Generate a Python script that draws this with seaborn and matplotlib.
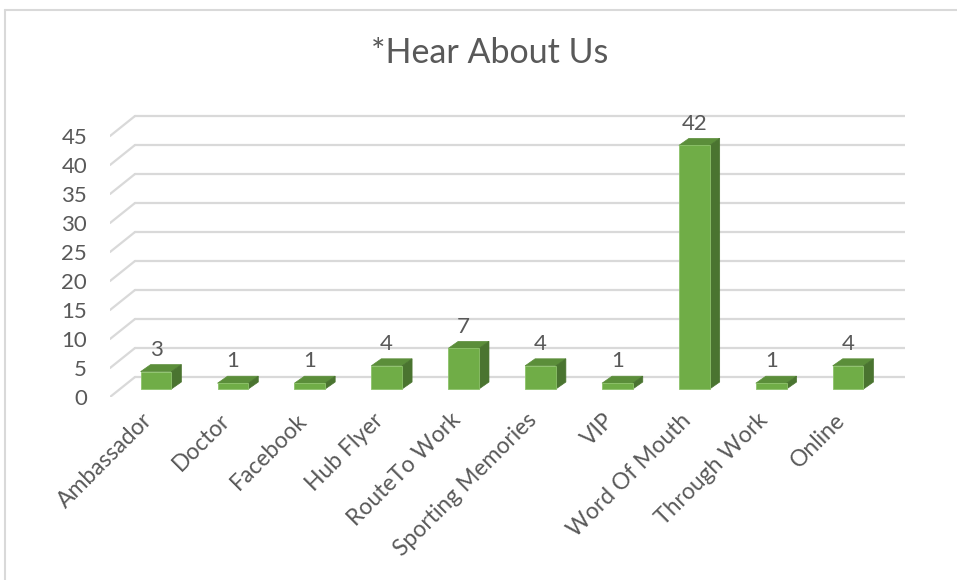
import matplotlib
matplotlib.use("Agg")
import matplotlib.pyplot as plt
import matplotlib.transforms as mtransforms
from matplotlib.patches import Polygon
from matplotlib.lines import Line2D
import seaborn as sns

categories = ["Ambassador", "Doctor", "Facebook", "Hub Flyer", "RouteTo Work",
              "Sporting Memories", "VIP", "Word Of Mouth", "Through Work", "Online"]
counts = [3, 1, 1, 4, 7, 4, 1, 42, 1, 4]
y_ticks = [0, 5, 10, 15, 20, 25, 30, 35, 40, 45]
title = "*Hear About Us"

FRONT = "#70AD47"
TOP = "#5B8E3A"
SIDE = "#4A7430"
GRID = "#D9D9D9"
TEXT = "#595959"

sns.set_style("white")
plt.rcParams["font.family"] = ["Lato", "DejaVu Sans"]

W, H, DPI = 957, 580, 100
fig = plt.figure(figsize=(W / DPI, H / DPI), dpi=DPI)

# pixel geometry of the 3-D plot box
px_left, px_right, px_top, px_bottom = 110, 905, 110, 397
cat_step = 76.9      # px per category
val_step = 5.8       # px per unit
x0_px, y0_px = 156, 389  # centre of first bar, baseline of bar fronts

xlim = ((px_left - x0_px) / cat_step, (px_right - x0_px) / cat_step)
ylim = ((y0_px - px_bottom) / val_step, (y0_px - px_top) / val_step)
ax = fig.add_axes([px_left / W, (H - px_bottom) / H,
                   (px_right - px_left) / W, (px_bottom - px_top) / H])

sns.barplot(x=categories, y=counts, ax=ax, color=FRONT, width=0.4,
            saturation=1, edgecolor="#8DC26A", linewidth=0.6, zorder=3)

ax.set_xlim(*xlim)
ax.set_ylim(*ylim)
for s in ax.spines.values():
    s.set_visible(False)

# depth of the 3-D extrusion in data units
bar_dx, bar_dy = 10 / cat_step, 7 / val_step
wall_dx, wall_dy = (135 - px_left) / cat_step, (px_bottom - 377) / val_step
back_x0 = xlim[0] + wall_dx
back_lift = ylim[0] + wall_dy  # back wall offset relative to bar baseline

# gridlines: diagonal on the side wall, horizontal on the back wall
for v in y_ticks:
    yb = v + back_lift
    ax.add_line(Line2D([xlim[0], back_x0], [v + ylim[0], yb],
                       color=GRID, lw=1.6, zorder=1))
    ax.add_line(Line2D([back_x0, xlim[1]], [yb, yb],
                       color=GRID, lw=1.6, zorder=1))

# tops and right sides of each bar
for rect in list(ax.patches):
    x, w, h = rect.get_x(), rect.get_width(), rect.get_height()
    top = Polygon([(x, h), (x + w, h), (x + w + bar_dx, h + bar_dy),
                   (x + bar_dx, h + bar_dy)], closed=True,
                  facecolor=TOP, edgecolor=TOP, lw=0.5, zorder=2.5)
    side = Polygon([(x + w, 0), (x + w + bar_dx, bar_dy),
                    (x + w + bar_dx, h + bar_dy), (x + w, h)], closed=True,
                   facecolor=SIDE, edgecolor=SIDE, lw=0.5, zorder=2.5)
    ax.add_patch(top)
    ax.add_patch(side)

# value labels above the bar fronts
ax.bar_label(ax.containers[0], labels=[str(c) for c in counts], padding=8.5,
             fontsize=16, color=TEXT)

# y axis labels sit at the front edge of the side wall
ax.set_yticks([v + ylim[0] for v in y_ticks], labels=[str(v) for v in y_ticks])
ax.tick_params(axis="y", length=0, pad=16.5, labelsize=16, labelcolor=TEXT)

ax.set_xticks(range(len(categories)), labels=categories)
ax.tick_params(axis="x", length=0, pad=9, labelsize=16.5, labelcolor=TEXT)
shift = mtransforms.ScaledTranslation(-14 / DPI, 0, fig.dpi_scale_trans)
for lab in ax.get_xticklabels():
    lab.set_rotation(45)
    lab.set_ha("right")
    lab.set_va("top")
    lab.set_rotation_mode("anchor")
    lab.set_transform(lab.get_transform() + shift)

fig.text(489.5 / W, 1 - 53 / H, title, ha="center", va="center",
         fontsize=24.5, color=TEXT)

# chart area border (left and top edges visible)
fig.add_artist(Line2D([4.5 / W, 4.5 / W], [0, 1 - 10 / H],
                      transform=fig.transFigure, color=GRID, lw=1.5))
fig.add_artist(Line2D([4.5 / W, 1], [1 - 10 / H, 1 - 10 / H],
                      transform=fig.transFigure, color=GRID, lw=1.5))

fig.savefig("out.png", dpi=DPI)
